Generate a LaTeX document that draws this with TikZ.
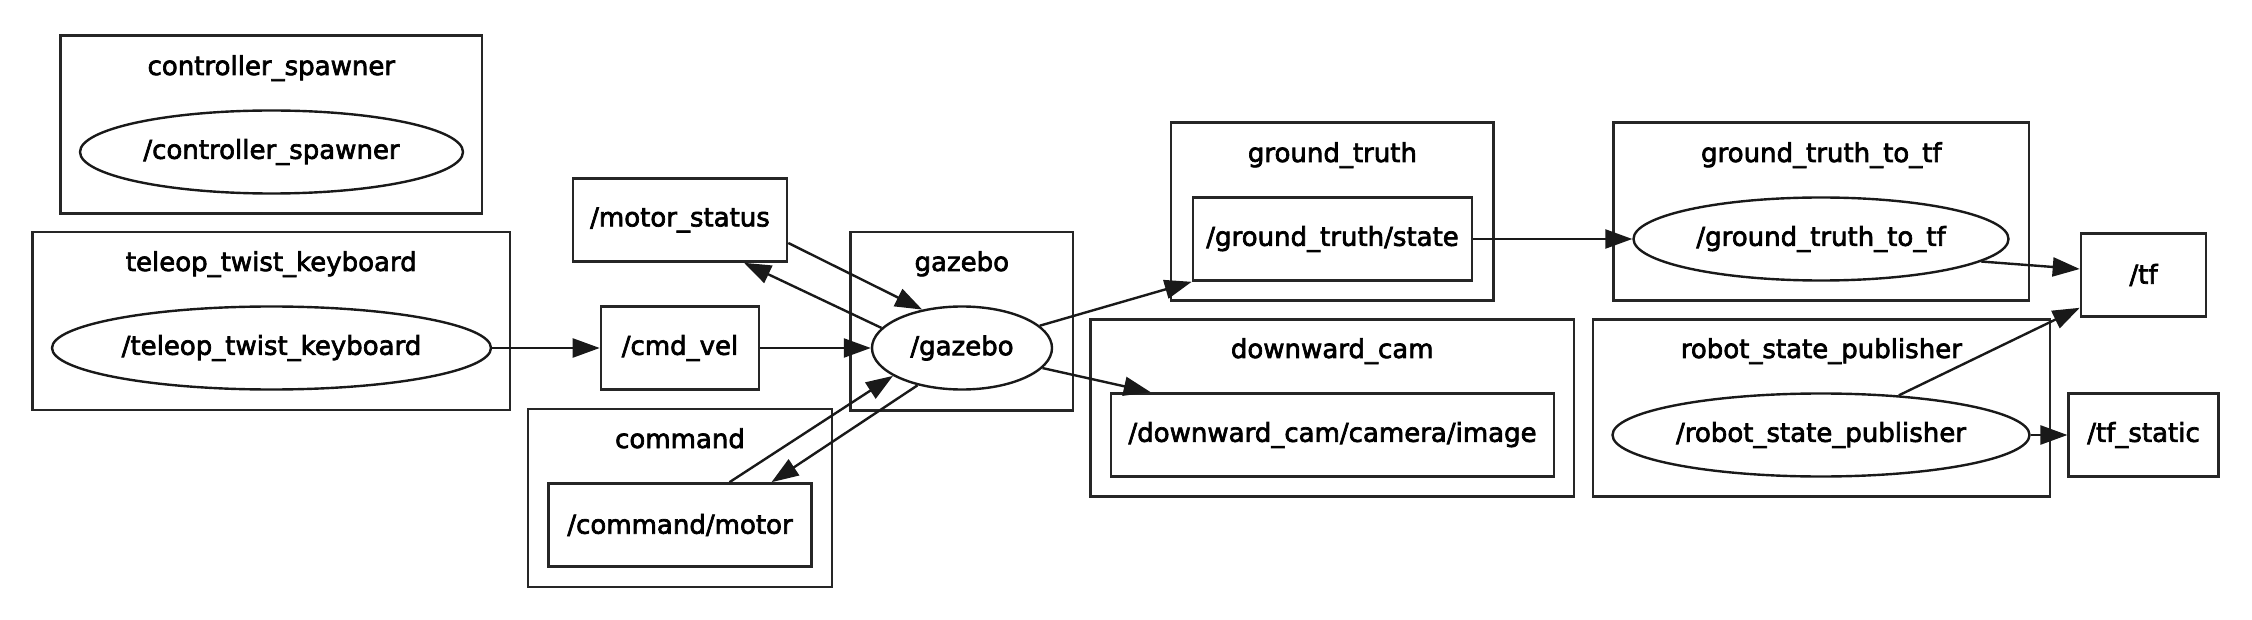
\documentclass[tikz,border=0pt]{standalone}
\usepackage{fontspec}
\setmainfont{DejaVu Sans}
\newfontfamily\gvfont{DejaVu Sans}[FakeBold=2.6]
\usetikzlibrary{shapes.geometric,arrows.meta}
\begin{document}
\begin{tikzpicture}[x=1pt,y=-1pt,
  every node/.style={font=\gvfont\fontsize{26}{30}\selectfont},
  cluster/.style={draw=black!85, line width=2.6pt, rectangle, inner sep=0pt},
  topic/.style={draw=black!85, line width=2.6pt, rectangle, minimum height=83pt, inner sep=0pt},
  proc/.style={draw=black!90, line width=2.4pt, ellipse, minimum height=83pt, inner sep=0pt},
  lbl/.style={inner sep=0pt, anchor=base},
  conn/.style={line width=2.4pt, draw=black!90, -{Triangle[length=27pt,width=19pt]}}]
\useasboundingbox (0,0) rectangle (2252,620);

% clusters
\node[cluster, minimum width=421.4pt, minimum height=178pt] (csC)  at (271.3,124.6) {};
\node[cluster, minimum width=477.5pt, minimum height=178pt] (tkC)  at (271.3,321) {};
\node[cluster, minimum width=304pt,   minimum height=178pt] (cmdC) at (680,498) {};
\node[cluster, minimum width=222.5pt, minimum height=178pt] (gzC)  at (961.8,321.2) {};
\node[cluster, minimum width=322.7pt, minimum height=178pt] (gtC)  at (1332.4,211.8) {};
\node[cluster, minimum width=483.6pt, minimum height=177pt] (dcC)  at (1332.2,407.8) {};
\node[cluster, minimum width=415.4pt, minimum height=178pt] (gttC) at (1821.3,211.8) {};
\node[cluster, minimum width=457pt,   minimum height=177pt] (rspC) at (1821.3,407.8) {};

% cluster labels
\node[lbl] (csL)  at (271.3,75) {controller\_spawner};
\node[lbl] (tkL)  at (271.3,271) {teleop\_twist\_keyboard};
\node[lbl] (cmdL) at (680,448) {command};
\node[lbl] (gzL)  at (961.8,271) {gazebo};
\node[lbl] (gtL)  at (1332.4,162) {ground\_truth};
\node[lbl] (dcL)  at (1332.2,358) {downward\_cam};
\node[lbl] (gttL) at (1821.3,162) {ground\_truth\_to\_tf};
\node[lbl] (rspL) at (1821.3,358) {robot\_state\_publisher};

% nodes
\node[proc, minimum width=383pt] (cs) at (271.5,152) {/controller\_spawner};
\node[proc, minimum width=439pt] (tk) at (271.5,348) {/teleop\_twist\_keyboard};
\node[topic, minimum width=214pt] (ms) at (680,220) {/motor\_status};
\node[topic, minimum width=158pt] (cv) at (680,348) {/cmd\_vel};
\node[topic, minimum width=263pt] (cm) at (680,525) {/command/motor};
\node[proc, minimum width=180pt] (gz) at (962,348) {/gazebo};
\node[topic, minimum width=279pt] (gts) at (1332.5,239) {/ground\_truth/state};
\node[topic, minimum width=443pt] (dci) at (1332.5,435) {/downward\_cam/camera/image};
\node[proc, minimum width=375pt] (gtt) at (1821,239) {/ground\_truth\_to\_tf};
\node[proc, minimum width=417pt] (rsp) at (1821,435) {/robot\_state\_publisher};
\node[topic, minimum width=125pt] (tf) at (2143.5,275) {/tf};
\node[topic, minimum width=149.5pt] (tfs) at (2143.5,435) {/tf\_static};

% connectors
\draw[conn] (tk.east) -- (cv.west);
\draw[conn] (cv.east) -- (gz.west);
\draw[conn] ([yshift=-23pt]ms.east) -- (gz.136);
\draw[conn] (gz.166) -- ([xshift=64pt]ms.south);
\draw[conn] ([xshift=49.5pt]cm.north) -- (gz.202);
\draw[conn] (gz.220) -- ([xshift=91.5pt]cm.north);
\draw[conn] (gz.16) -- (gts.south west);
\draw[conn] (gz.346) -- ([xshift=41pt]dci.north west);
\draw[conn] (gts.east) -- (gtt.west);
\draw[conn] (gtt.352) -- ([yshift=6pt]tf.west);
\draw[conn] (rsp.27) -- ([yshift=10pt]tf.south west);
\draw[conn] (rsp.east) -- (tfs.west);
\end{tikzpicture}
\end{document}
